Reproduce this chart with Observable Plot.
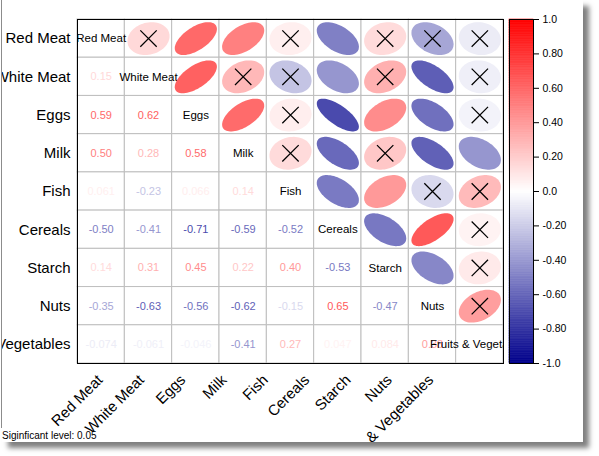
<!DOCTYPE html>
<html><head><meta charset="utf-8">
<script src="https://cdn.jsdelivr.net/npm/d3@7"></script>
<script src="https://cdn.jsdelivr.net/npm/@observablehq/plot@0.6"></script>
<style>
html,body{margin:0;padding:0;background:#fff;}
body{width:599px;height:456px;overflow:hidden;position:relative;font-family:"Liberation Sans",Arial,sans-serif;}
#page{position:absolute;left:2px;top:0;width:581px;height:442px;background:#fff;overflow:hidden;box-shadow:6px 6px 5px rgba(0,0,0,0.5);}
#edge{position:absolute;left:1px;top:0;width:1px;height:428px;background:#8c8c8c;}
.layer{position:absolute;left:-2px;top:0;width:599px;height:456px;}
.layer svg{max-width:none !important;width:599px !important;height:456px !important;display:block;}
#sig{position:absolute;left:0;top:431px;font-size:10px;line-height:10px;color:#000;white-space:nowrap;}
</style>
</head><body>
<div id="page">
  <div class="layer" id="main"></div>
  <div class="layer" id="labels"></div>
  <div class="layer" id="bar"></div>
  <div id="sig">Siginficant level: 0.05</div>
</div>
<div id="edge"></div>
<script>
const vars = ["Red Meat","White Meat","Eggs","Milk","Fish","Cereals","Starch","Nuts","Fruits & Vegetables"];
// lower triangle correlations (row i, columns 0..i-1)
const corrLower = [
  [],
  [0.15],
  [0.59, 0.62],
  [0.50, 0.28, 0.58],
  [0.061, -0.23, 0.066, 0.14],
  [-0.50, -0.41, -0.71, -0.59, -0.52],
  [0.14, 0.31, 0.45, 0.22, 0.40, -0.53],
  [-0.35, -0.63, -0.56, -0.62, -0.15, 0.65, -0.47],
  [-0.074, -0.061, -0.046, -0.41, 0.27, 0.047, 0.084, 0.38]
];
// pairs not significant at level 0.05 (marked with a cross)
const insignificant = [
  ["Red Meat","White Meat"],["Red Meat","Fish"],["Red Meat","Starch"],["Red Meat","Nuts"],["Red Meat","Fruits & Vegetables"],
  ["White Meat","Milk"],["White Meat","Fish"],["White Meat","Starch"],["White Meat","Fruits & Vegetables"],
  ["Eggs","Fish"],["Eggs","Fruits & Vegetables"],
  ["Milk","Fish"],["Milk","Starch"],
  ["Fish","Nuts"],["Fish","Fruits & Vegetables"],
  ["Cereals","Fruits & Vegetables"],
  ["Starch","Fruits & Vegetables"],
  ["Nuts","Fruits & Vegetables"]
];
const legendTicks = [1, 0.8, 0.6, 0.4, 0.2, 0, -0.2, -0.4, -0.6, -0.8, -1];

const color = d3.scaleLinear().domain([-1, 0, 1]).range(["#00008B", "#FFFFFF", "#FF0000"]).interpolate(d3.interpolateRgb);
const fmt = d3.formatLocale({decimal: ".", thousands: ",", grouping: [3], currency: ["", ""], minus: "-"}).format(".2r");
const corr = (i, j) => i === j ? 1 : (i > j ? corrLower[i][j] : corrLower[j][i]);

const cells = [], lower = [], upper = [], diag = [];
for (let i = 0; i < vars.length; ++i) {
  for (let j = 0; j < vars.length; ++j) {
    const d = {row: i + 1, col: j + 1, r: corr(i, j), a: vars[i], b: vars[j]};
    cells.push(d);
    if (i > j) lower.push(d);
    else if (i < j) upper.push(d);
    else diag.push(d);
  }
}
const isInsig = d => insignificant.some(([p, q]) => (p === d.a && q === d.b) || (p === d.b && q === d.a));
const crosses = upper.filter(isInsig);

const HW = 0.445, HH = 0.43, N = 72;
const ellipses = [];
upper.forEach((c, k) => {
  const dd = Math.acos(c.r);
  for (let t = 0; t < N; ++t) {
    const a = 2 * Math.PI * t / N;
    ellipses.push({id: k, fill: color(c.r), x: c.col + HW * Math.cos(a + dd / 2), y: c.row - HH * Math.cos(a - dd / 2)});
  }
});

const font = '"Liberation Sans", Arial, sans-serif';
const W = 599, H = 456;

const main = Plot.plot({
  width: W, height: H,
  marginLeft: 77, marginRight: W - 503, marginTop: 19, marginBottom: H - 363,
  style: {fontFamily: font, fontSize: "15px", background: "transparent", color: "#000", maxWidth: "none"},
  x: {domain: [0.5, 9.5], axis: null},
  y: {domain: [0.5, 9.5], reverse: true, ticks: d3.range(1, 10), tickFormat: i => vars[i - 1], tickSize: 0, tickPadding: 7, label: null},
  marks: [
    Plot.rect(cells, {x1: d => d.col - 0.5, x2: d => d.col + 0.5, y1: d => d.row - 0.5, y2: d => d.row + 0.5, fill: "white", stroke: "#bebebe", strokeWidth: 1}),
    Plot.text(lower, {x: "col", y: "row", text: d => fmt(d.r), fill: d => color(d.r), fontSize: 11}),
    Plot.text(diag, {x: "col", y: "row", text: "a", fill: "black", fontSize: 11.5, clip: true}),
    Plot.line(ellipses, {x: "x", y: "y", z: "id", fill: "fill", stroke: "none", curve: "linear-closed"}),
    Plot.dot(crosses, {x: "col", y: "row", symbol: "times", r: 7.5, stroke: "black", strokeWidth: 1.25}),
    Plot.frame({stroke: "black"})
  ]
});
document.getElementById("main").appendChild(main);

const labels = Plot.plot({
  width: W, height: H,
  marginLeft: 79, marginRight: W - 451, marginTop: 19, marginBottom: H - 363,
  style: {fontFamily: font, fontSize: "15px", background: "transparent", color: "#000", maxWidth: "none"},
  x: {domain: [0.5, 9.5], ticks: d3.range(1, 10), tickFormat: i => vars[i - 1], tickRotate: -45, tickSize: 0, tickPadding: 14, label: null},
  y: {axis: null, domain: [0, 1]},
  marks: [Plot.dot(vars, {x: (d, i) => i + 1, y: 0, r: 0})]
});
document.getElementById("labels").appendChild(labels);

const steps = d3.range(-1, 1, 0.01);
const bar = Plot.plot({
  width: W, height: H,
  marginLeft: 509, marginRight: W - 533, marginTop: 19, marginBottom: H - 363,
  style: {fontFamily: font, fontSize: "10.5px", background: "transparent", color: "#000", maxWidth: "none"},
  x: {domain: [0, 1], axis: null},
  y: {domain: [-1, 1], axis: "right", ticks: legendTicks, tickFormat: v => v === 0 ? "0.0" : (Math.abs(v) === 1 ? (v > 0 ? "1.0" : "-1.0") : (v < 0 ? "-" : "") + Math.abs(v).toFixed(2)), tickSize: 5, tickPadding: 4, label: null},
  marks: [
    Plot.rect(steps, {x1: 0, x2: 1, y1: d => d, y2: d => d + 0.01, fill: d => color(d + 0.005), stroke: d => color(d + 0.005), strokeWidth: 0.6}),
    Plot.frame({stroke: "black"})
  ]
});
document.getElementById("bar").appendChild(bar);
</script>
</body></html>
